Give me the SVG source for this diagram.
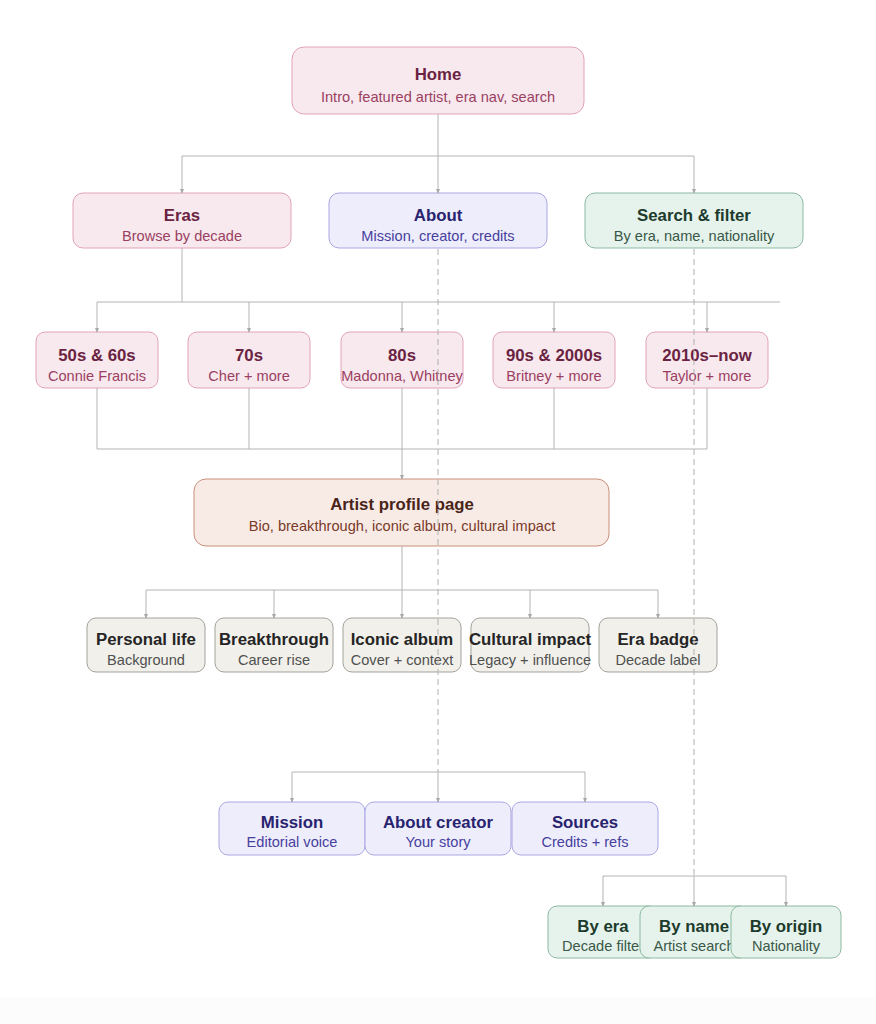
<svg xmlns="http://www.w3.org/2000/svg" width="876" height="1024" viewBox="0 0 876 1024">
<defs>
<marker id="arr" viewBox="0 0 6 6" refX="5" refY="3" markerWidth="5" markerHeight="5" orient="auto">
<path d="M0,0.5 L6,3 L0,5.5 z" fill="#a8a8a8"/>
</marker>
<style>
text{font-family:"Liberation Sans",Arial,Helvetica,sans-serif;text-anchor:middle}
.t{font-weight:bold;font-size:16.8px}
.s{font-size:14.6px}
.pink rect{fill:#f7e9ee;stroke:#e3a3b8;stroke-width:1}
.pink .t{fill:#6b2342}.pink .s{fill:#9b3f62}
.blue rect{fill:#eeedfc;stroke:#aaa6e2;stroke-width:1}
.blue .t{fill:#28236e}.blue .s{fill:#47419e}
.green rect{fill:#e5f3ec;stroke:#8cb9a2;stroke-width:1}
.green .t{fill:#1d3b2c}.green .s{fill:#395848}
.brown rect{fill:#f8ebe6;stroke:#c98f7a;stroke-width:1}
.brown .t{fill:#4b2419}.brown .s{fill:#7a3a29}
.gray rect{fill:#f1f0eb;stroke:#a3a19a;stroke-width:1}
.gray .t{fill:#252525}.gray .s{fill:#505050}
.c{fill:none;stroke:#b4b4b4;stroke-width:1}
.a{fill:none;stroke:#b4b4b4;stroke-width:1;marker-end:url(#arr)}
.d{fill:none;stroke:#b0b0b0;stroke-width:1;stroke-dasharray:6 4}
</style>
</defs>
<rect x="0" y="0" width="876" height="1024" fill="#ffffff"/>
<rect x="0" y="998" width="876" height="26" fill="#fcfcfc"/>

<g id="home" class="pink"><rect x="292" y="47" width="292" height="67" rx="12"/><text class="t" x="438" y="80">Home</text><text class="s" x="438" y="102">Intro, featured artist, era nav, search</text></g>

<g id="eras" class="pink"><rect x="73" y="193" width="218" height="55" rx="10"/><text class="t" x="182" y="221">Eras</text><text class="s" x="182" y="241">Browse by decade</text></g>
<g id="about" class="blue"><rect x="329" y="193" width="218" height="55" rx="10"/><text class="t" x="438" y="221">About</text><text class="s" x="438" y="241">Mission, creator, credits</text></g>
<g id="search" class="green"><rect x="585" y="193" width="218" height="55" rx="10"/><text class="t" x="694" y="221">Search &amp; filter</text><text class="s" x="694" y="241">By era, name, nationality</text></g>

<g id="era50" class="pink"><rect x="36" y="332" width="122" height="56" rx="9"/><text class="t" x="97" y="361">50s &amp; 60s</text><text class="s" x="97" y="381">Connie Francis</text></g>
<g id="era70" class="pink"><rect x="188" y="332" width="122" height="56" rx="9"/><text class="t" x="249" y="361">70s</text><text class="s" x="249" y="381">Cher + more</text></g>
<g id="era80" class="pink"><rect x="341" y="332" width="122" height="56" rx="9"/><text class="t" x="402" y="361">80s</text><text class="s" x="402" y="381">Madonna, Whitney</text></g>
<g id="era90" class="pink"><rect x="493" y="332" width="122" height="56" rx="9"/><text class="t" x="554" y="361">90s &amp; 2000s</text><text class="s" x="554" y="381">Britney + more</text></g>
<g id="era2010" class="pink"><rect x="646" y="332" width="122" height="56" rx="9"/><text class="t" x="707" y="361">2010s–now</text><text class="s" x="707" y="381">Taylor + more</text></g>

<g id="artist" class="brown"><rect x="194" y="479" width="415" height="67" rx="12"/><text class="t" x="402" y="510">Artist profile page</text><text class="s" x="402" y="531">Bio, breakthrough, iconic album, cultural impact</text></g>

<g id="personal" class="gray"><rect x="87" y="618" width="118" height="54" rx="9"/><text class="t" x="146" y="645">Personal life</text><text class="s" x="146" y="665">Background</text></g>
<g id="breakthrough" class="gray"><rect x="215" y="618" width="118" height="54" rx="9"/><text class="t" x="274" y="645">Breakthrough</text><text class="s" x="274" y="665">Career rise</text></g>
<g id="iconic" class="gray"><rect x="343" y="618" width="118" height="54" rx="9"/><text class="t" x="402" y="645">Iconic album</text><text class="s" x="402" y="665">Cover + context</text></g>
<g id="cultural" class="gray"><rect x="471" y="618" width="118" height="54" rx="9"/><text class="t" x="530" y="645">Cultural impact</text><text class="s" x="530" y="665">Legacy + influence</text></g>
<g id="badge" class="gray"><rect x="599" y="618" width="118" height="54" rx="9"/><text class="t" x="658" y="645">Era badge</text><text class="s" x="658" y="665">Decade label</text></g>

<g id="mission" class="blue"><rect x="219" y="802" width="146" height="53" rx="9"/><text class="t" x="292" y="828">Mission</text><text class="s" x="292" y="847">Editorial voice</text></g>
<g id="creator" class="blue"><rect x="365" y="802" width="146" height="53" rx="9"/><text class="t" x="438" y="828">About creator</text><text class="s" x="438" y="847">Your story</text></g>
<g id="sources" class="blue"><rect x="512" y="802" width="146" height="53" rx="9"/><text class="t" x="585" y="828">Sources</text><text class="s" x="585" y="847">Credits + refs</text></g>

<g id="byera" class="green"><rect x="548" y="906" width="110" height="52" rx="9"/><text class="t" x="603" y="932">By era</text><text class="s" x="603" y="951">Decade filter</text></g>
<g id="byname" class="green"><rect x="640" y="906" width="109" height="52" rx="9"/><text class="t" x="694" y="932">By name</text><text class="s" x="694" y="951">Artist search</text></g>
<g id="byorigin" class="green"><rect x="731" y="906" width="110" height="52" rx="9"/><text class="t" x="786" y="932">By origin</text><text class="s" x="786" y="951">Nationality</text></g>

<g id="connectors">
<path class="c" d="M438,114 V156 M182,156 H694"/>
<path class="a" d="M182,156 V193"/><path class="a" d="M438,156 V193"/><path class="a" d="M694,156 V193"/>
<path class="c" d="M182,248 V302 M97,302 H780"/>
<path class="a" d="M97,302 V332"/><path class="a" d="M249,302 V332"/><path class="a" d="M402,302 V332"/><path class="a" d="M554,302 V332"/><path class="a" d="M707,302 V332"/>
<path class="c" d="M97,388 V449 M249,388 V449 M554,388 V449 M707,388 V449 M97,449 H707"/>
<path class="a" d="M402,388 V479"/>
<path class="c" d="M402,546 V590 M146,590 H658"/>
<path class="a" d="M146,590 V618"/><path class="a" d="M274,590 V618"/><path class="a" d="M402,590 V618"/><path class="a" d="M530,590 V618"/><path class="a" d="M658,590 V618"/>
<path class="d" d="M438,249 V772"/>
<path class="c" d="M292,772 H585"/>
<path class="a" d="M292,772 V802"/><path class="a" d="M438,772 V802"/><path class="a" d="M585,772 V802"/>
<path class="d" d="M694,249 V876"/>
<path class="c" d="M603,876 H786"/>
<path class="a" d="M603,876 V906"/><path class="a" d="M694,876 V906"/><path class="a" d="M786,876 V906"/>
</g>
</svg>
